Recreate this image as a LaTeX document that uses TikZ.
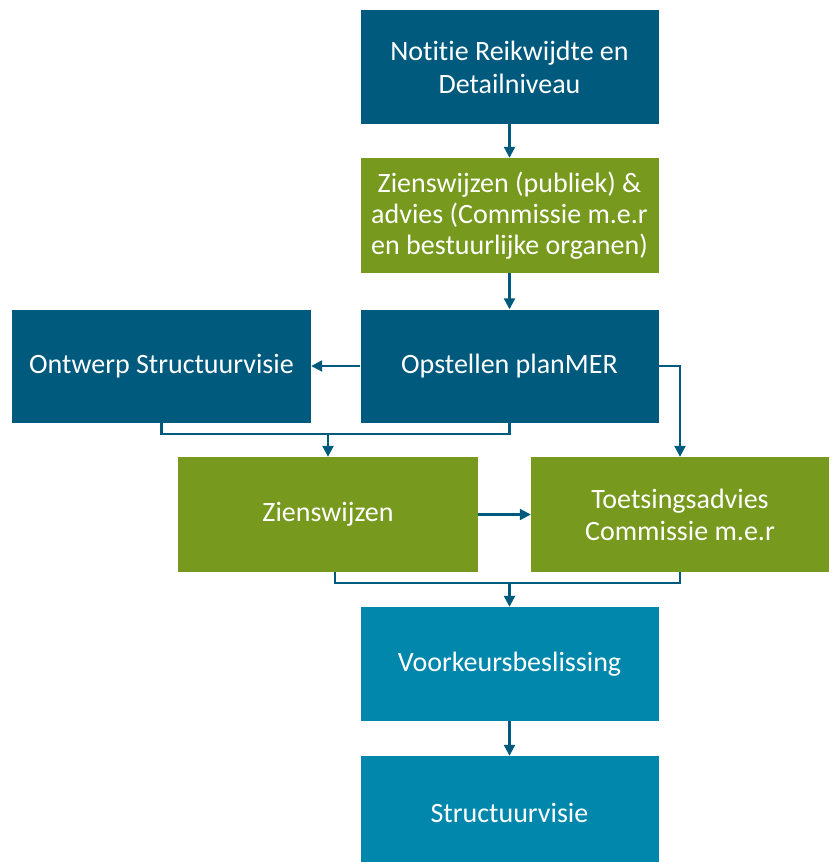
\documentclass[tikz,border=0pt]{standalone}
\usepackage{fontspec}
\setmainfont{Carlito}[RawFeature=-liga]
\usetikzlibrary{arrows.meta}
\definecolor{dblue}{HTML}{005A7D}
\definecolor{lgreen}{HTML}{76991E}
\definecolor{teal2}{HTML}{0087AB}
\tikzset{
  box/.style={rectangle, minimum width=298pt, minimum height=114pt, inner sep=0pt,
    text=white, align=center, font=\fontsize{28}{32}\selectfont},
  bluebox/.style={box, fill=dblue},
  greenbox/.style={box, fill=lgreen},
  tealbox/.style={box, fill=teal2},
  conn/.style={draw=dblue, line width=2.2pt},
  arr/.style={conn, -{Triangle[length=11pt,width=11pt]}}
}
\begin{document}
\begin{tikzpicture}[x=1pt,y=-1pt]
\useasboundingbox (0,0) rectangle (835,862);
\begin{scope}
\clip (0,0) rectangle (835,862);
\node[bluebox, font=\fontsize{28}{33}\selectfont] (n1) at (509.5,67) {Notitie Reikwijdte en\\Detailniveau};
\node[greenbox, minimum height=115pt, font=\fontsize{28}{31}\selectfont] (n2) at (509.5,215.5) {Zienswijzen (publiek) \&\\advies (Commissie m.e.r\\en bestuurlijke organen)};
\node[bluebox, minimum height=113pt, minimum width=299pt] (ont) at (161.5,366) {Ontwerp Structuurvisie};
\node[bluebox, minimum height=113pt] (ops) at (509.5,366) {Opstellen planMER};
\node[greenbox, minimum height=115pt, minimum width=300pt] (zie) at (328,514.5) {Zienswijzen};
\node[greenbox, minimum height=115pt] (toe) at (680,514.5) {Toetsingsadvies\\Commissie m.e.r};
\node[tealbox] (voo) at (509.5,664) {Voorkeursbeslissing};
\node[tealbox] (str) at (509.5,813) {Structuurvisie};
\end{scope}
\coordinate (m1) at (328,434);
\coordinate (m2) at (509.5,583);
\draw[arr] (n1) -- (n2);
\draw[arr] (n2) -- (ops);
\draw[arr] (ops.west) -- (ont.east);
\draw[arr] (ops.east) -| (toe.north);
\draw[conn] (ont.south) |- (m1) -| (ops.south);
\draw[arr] (m1) -- (zie.north);
\draw[arr] (zie) -- (toe);
\draw[conn] ([xshift=7pt]zie.south) |- (m2) -| (toe.south);
\draw[arr] (m2) -- (voo.north);
\draw[arr] (voo) -- (str);
\end{tikzpicture}
\end{document}
